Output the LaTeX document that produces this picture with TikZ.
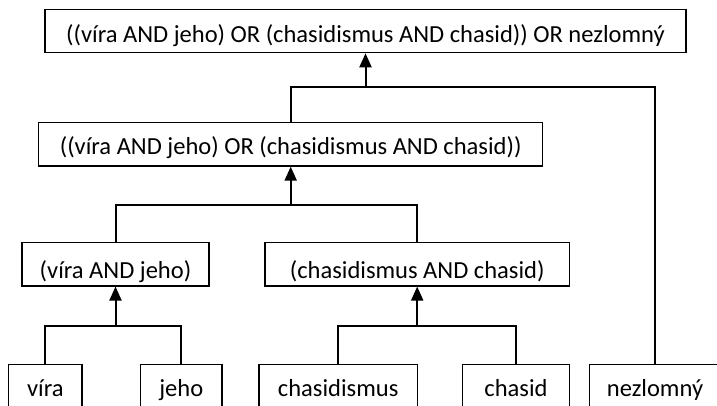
\documentclass[tikz,border=0pt]{standalone}
\usepackage{fontspec}
\setmainfont{Carlito}
\usetikzlibrary{arrows.meta}
\newlength\pxu
\setlength\pxu{0.75pt}
\begin{document}
\begin{tikzpicture}[x=0.75pt,y=-0.75pt,
  box/.style={draw, line width=0.9pt, inner sep=0pt, text depth=0pt,
    font=\fontsize{18.4}{22}\selectfont},
  lvtop/.style={box, minimum height=43.4*\pxu, text height=24*\pxu},
  lvsec/.style={box, minimum height=43.3*\pxu, text height=20*\pxu},
  lvthird/.style={box, minimum height=43.3*\pxu, text height=29*\pxu},
  lvleaf/.style={box, minimum height=43*\pxu, text height=21.4*\pxu},
  conn/.style={line width=1.5pt},
  arr/.style={line width=1.5pt, -{Triangle[length=10.5pt,width=9pt]}}]
\useasboundingbox (0,0) rectangle (717,406);
\fill[white] (0,0) rectangle (717,406);
\node[lvtop, minimum width=641*\pxu] (top) at (365.5,31) {((víra AND jeho) OR (chasidismus AND chasid)) OR nezlomný};
\node[lvsec, minimum width=504*\pxu] (second) at (290.7,144.4) {((víra AND jeho) OR (chasidismus AND chasid))};
\node[lvthird, minimum width=187*\pxu] (va) at (115.5,264.3) {(víra AND jeho)};
\node[lvthird, minimum width=304.3*\pxu] (cc) at (417.2,264.3) {(chasidismus AND chasid)};
\node[lvleaf, minimum width=73.3*\pxu] (vira) at (45.3,386) {víra};
\node[lvleaf, minimum width=81.3*\pxu] (jeho) at (181.3,386) {jeho};
\node[lvleaf, minimum width=158.3*\pxu] (chasidismus) at (338.2,386) {chasidismus};
\node[lvleaf, minimum width=106.6*\pxu] (chasid) at (516,386) {chasid};
\node[lvleaf, minimum width=131.4*\pxu] (nezl) at (655,386) {nezlomný};
\coordinate (j1) at (365.5,87.3);
\coordinate (j2) at (290.7,205);
\coordinate (j3) at (115.5,325.5);
\coordinate (j4) at (417.2,325.7);
\draw[conn] (second.north) |- (j1) -| (nezl.north);
\draw[arr] (j1) -- (top.south);
\draw[conn] (va.north) |- (j2) -| (cc.north);
\draw[arr] (j2) -- (second.south);
\draw[conn] (vira.north) |- (j3) -| (jeho.north);
\draw[arr] (j3) -- (va.south);
\draw[conn] (chasidismus.north) |- (j4) -| (chasid.north);
\draw[arr] (j4) -- (cc.south);
\end{tikzpicture}
\end{document}
